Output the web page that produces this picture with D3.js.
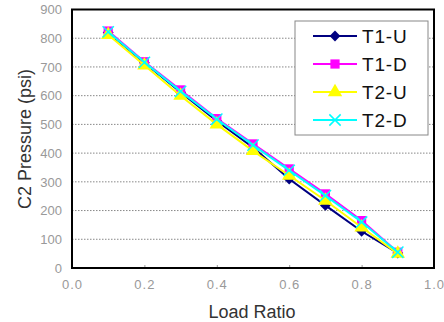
<!DOCTYPE html>
<html>
<head>
<meta charset="utf-8">
<script src="https://cdn.jsdelivr.net/npm/d3@7"></script>
<style>
  body { margin: 0; background: white; }
  text { font-family: "Liberation Sans", Arial, sans-serif; }
</style>
</head>
<body>
<div id="container"></div>
<script>
let w = 444;
let h = 322;

// data
let loadRatio = [0.1, 0.2, 0.3, 0.4, 0.5, 0.6, 0.7, 0.8, 0.9];
let t1u = [820, 715, 612, 512, 420, 310, 218, 128, 52];
let t1d = [825, 718, 620, 520, 432, 345, 258, 165, 55];
let t2u = [812, 706, 600, 500, 408, 322, 235, 142, 50];
let t2d = [822, 716, 615, 518, 428, 340, 252, 160, 55];
let seriesNames = ["T1-U", "T1-D", "T2-U", "T2-D"];
let xTicks = [0, 0.2, 0.4, 0.6, 0.8, 1.0];
let yTicks = [0, 100, 200, 300, 400, 500, 600, 700, 800, 900];

let colors = ["#000080", "#FF00FF", "#FFFF00", "#00FFFF"];
let shapes = ["diamond", "square", "triangle", "cross"];
let allSeries = [t1u, t1d, t2u, t2d];

let plotLeft = 72, plotRight = 434, plotTop = 9.5, plotBottom = 268;

let x = d3.scaleLinear().domain([0, 1]).range([plotLeft, plotRight]);
let y = d3.scaleLinear().domain([0, 900]).range([plotBottom, plotTop]);

let viz = d3.select("#container")
  .append("svg")
    .attr("width", w)
    .attr("height", h)
    .style("background-color", "white")
;

// dotted grid lines
viz.append("g")
  .selectAll("line")
  .data(yTicks.filter(d => d > 0 && d < 900))
  .enter()
  .append("line")
    .attr("x1", plotLeft)
    .attr("x2", plotRight)
    .attr("y1", d => y(d))
    .attr("y2", d => y(d))
    .style("stroke", "#888")
    .style("stroke-width", 1)
    .style("stroke-dasharray", "1.5,1.5")
;

// axes
let xAxis = d3.axisBottom(x).tickValues(xTicks).tickFormat(d3.format(".1f")).tickSize(-3).tickPadding(12);
let yAxis = d3.axisLeft(y).tickValues(yTicks).tickSize(0).tickPadding(10);

let gx = viz.append("g").attr("transform", "translate(0," + plotBottom + ")").call(xAxis);
let gy = viz.append("g").attr("transform", "translate(" + plotLeft + ",0)").call(yAxis);

gx.select(".domain").remove();
gy.select(".domain").remove();
gx.selectAll(".tick line").style("stroke", "#999");
gx.selectAll("text")
  .attr("font-size", 13)
  .attr("fill", "#999")
  .style("letter-spacing", "1px")
  .style("font-family", "'Liberation Sans', Arial, sans-serif");
gy.selectAll("text")
  .attr("font-size", 13)
  .attr("fill", "#999")
  .style("font-family", "'Liberation Sans', Arial, sans-serif");

// plot frame
viz.append("rect")
  .attr("x", plotLeft)
  .attr("y", plotTop)
  .attr("width", plotRight - plotLeft)
  .attr("height", plotBottom - plotTop)
  .style("fill", "none")
  .style("stroke", "black")
  .style("stroke-width", 2)
;

// axis titles
viz.append("text")
  .text("Load Ratio")
  .attr("x", 252)
  .attr("y", 318)
  .attr("text-anchor", "middle")
  .attr("font-size", 18)
  .attr("fill", "#333")
;
viz.append("text")
  .text("C2 Pressure (psi)")
  .attr("transform", "translate(31,139) rotate(-90)")
  .attr("text-anchor", "middle")
  .attr("font-size", 18)
  .attr("fill", "#333")
;

function markerPath(shape) {
  if (shape == "diamond") return d3.symbol().type(d3.symbolDiamond2).size(75)();
  if (shape == "square") return d3.symbol().type(d3.symbolSquare).size(85)();
  if (shape == "triangle") return d3.symbol().type(d3.symbolTriangle).size(90)();
  return d3.symbol().type(d3.symbolTimes).size(85)();
}

let line = d3.line()
  .x((d, i) => x(loadRatio[i]))
  .y(d => y(d));

allSeries.forEach(function(values, s) {
  let g = viz.append("g").attr("class", "series");
  g.append("path")
    .attr("d", line(values))
    .style("fill", "none")
    .style("stroke", colors[s])
    .style("stroke-width", 2)
  ;
  g.selectAll(".marker")
    .data(values)
    .enter()
    .append("path")
      .attr("class", "marker")
      .attr("d", markerPath(shapes[s]))
      .attr("transform", (d, i) => "translate(" + x(loadRatio[i]) + "," + y(d) + ")")
      .style("fill", shapes[s] == "cross" ? "none" : colors[s])
      .style("stroke", colors[s])
      .style("stroke-width", shapes[s] == "cross" ? 1.5 : 0)
  ;
});

// legend
let legend = viz.append("g").attr("transform", "translate(295,21)");
legend.append("rect")
  .attr("width", 133)
  .attr("height", 114)
  .style("fill", "white")
  .style("stroke", "#888")
  .style("stroke-width", 1)
;
seriesNames.forEach(function(name, s) {
  let ly = 15 + s * 28;
  legend.append("line")
    .attr("x1", 18)
    .attr("x2", 62)
    .attr("y1", ly)
    .attr("y2", ly)
    .style("stroke", colors[s])
    .style("stroke-width", 2)
  ;
  legend.append("path")
    .attr("d", markerPath(shapes[s]))
    .attr("transform", "translate(40," + ly + ")")
    .style("fill", shapes[s] == "cross" ? "none" : colors[s])
    .style("stroke", colors[s])
    .style("stroke-width", shapes[s] == "cross" ? 1.5 : 0)
  ;
  legend.append("text")
    .text(name)
    .attr("x", 67)
    .attr("y", ly + 7)
    .attr("font-size", 19)
    .attr("fill", "#111")
    .style("letter-spacing", "0.8px")
  ;
});
</script>
</body>
</html>
